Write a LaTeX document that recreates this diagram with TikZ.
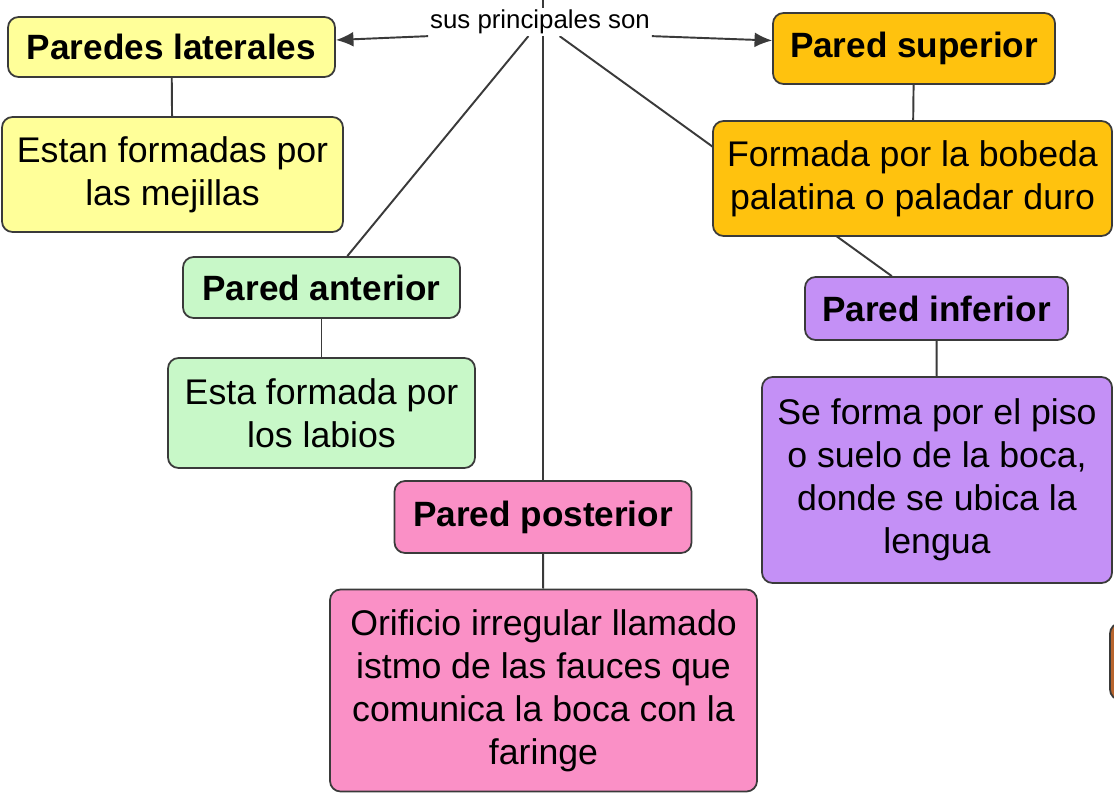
\documentclass[tikz,border=0pt]{standalone}
\usepackage{fontspec}
\setmainfont{Liberation Sans}
\usetikzlibrary{arrows.meta,backgrounds,calc}
\definecolor{cyel}{HTML}{FFFF99}
\definecolor{corg}{HTML}{FFC20E}
\definecolor{cgrn}{HTML}{C8F8C8}
\definecolor{cpur}{HTML}{C490F6}
\definecolor{cpnk}{HTML}{FA90C6}
\definecolor{cbrd}{HTML}{3A3A3A}
\definecolor{cbrn}{HTML}{B8652E}
\tikzset{
  box/.style={draw=cbrd, line width=1pt, rounded corners=6pt, inner sep=0pt,
    align=center, font=\fontsize{20.3}{24.5}\selectfont},
  head/.style={box, font=\fontsize{20}{24}\selectfont\bfseries},
  sz/.style 2 args={minimum width=#1*0.02cm, minimum height=#2*0.02cm},
  conn/.style={draw=cbrd, line width=1.1pt},
  arr/.style={conn, -{Latex[length=10pt,width=8.5pt]}},
  lbl/.style={fill=white, inner sep=1pt, font=\fontsize{14.7}{17}\selectfont}
}
\begin{document}
\begin{tikzpicture}[x=0.02cm,y=-0.02cm]
\useasboundingbox (0,0) rectangle (1114,794);
% partial shape at right edge
\begin{scope}
\clip (0,0) rectangle (1114,794);
\draw[draw=cbrd, fill=cbrn, rounded corners=6pt, line width=1pt] (1110,623) rectangle (1180,700);
\end{scope}
% nodes
\node[head, fill=cyel, sz={327}{60}] (lat) at (171.5,47) {Paredes laterales};
\node[box, fill=cyel, sz={341}{115}] (est) at (172.5,174.5) {Estan formadas por\\las mejillas};
\node[head, fill=corg, sz={282}{71}] (sup) at (914,48.5) {Pared superior};
\node[box, fill=corg, sz={399}{115}] (form) at (912.5,178.5) {Formada por la bobeda\\palatina o paladar duro};
\node[head, fill=cgrn, sz={277}{61}] (ant) at (321.5,287.5) {Pared anterior};
\node[box, fill=cgrn, sz={307}{110}] (esta) at (321.5,413) {Esta formada por\\los labios};
\node[head, fill=cpur, sz={263}{63}] (inf) at (936.5,308.5) {Pared inferior};
\node[box, fill=cpur, sz={350}{206}] (se) at (937,480) {Se forma por el piso\\o suelo de la boca,\\donde se ubica la\\lengua};
\node[head, fill=cpnk, sz={297}{72}] (post) at (543,517) {Pared posterior};
\node[box, fill=cpnk, sz={427}{202}] (ori) at (543.5,690.5) {Orificio irregular llamado\\istmo de las fauces que\\comunica la boca con la\\faringe};
\node[lbl] (sus) at (540,22) {sus principales son};
\coordinate (top) at (543,0);
% connectors
\begin{scope}[on background layer]
\fill[white] (0,0) rectangle (1114,794);
\draw[conn] (top) -- (post);
\draw[conn] (sus) -- (ant);
\draw[conn] (sus) -- (inf);
\end{scope}
\draw[arr] (sus.south west) -- ($(lat.east)+(0,-7)$);
\draw[arr] (sus.south east) -- ($(sup.west)+(0,-8)$);
\draw[conn] (lat) -- (est);
\draw[conn] (sup) -- (form);
\draw[conn] (ant) -- (esta);
\draw[conn] (inf) -- (se);
\draw[conn] (post) -- (ori);
\end{tikzpicture}
\end{document}
